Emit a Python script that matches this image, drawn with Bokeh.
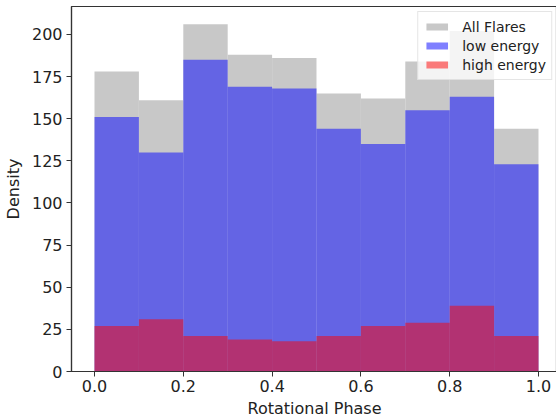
from bokeh.plotting import figure
from bokeh.embed import file_html
from bokeh.resources import INLINE
from bokeh.models import Range1d, FixedTicker, CustomJSTickFormatter

bin_edges = [0.0, 0.1, 0.2, 0.3, 0.4, 0.5, 0.6, 0.7, 0.8, 0.9, 1.0]
all_flares = [178, 161, 206, 188, 186, 165, 162, 184, 202, 144]
low_energy = [151, 130, 185, 169, 168, 144, 135, 155, 163, 123]
high_energy = [27, 31, 21, 19, 18, 21, 27, 29, 39, 21]
x_ticks = [0.0, 0.2, 0.4, 0.6, 0.8, 1.0]
y_ticks = [0, 25, 50, 75, 100, 125, 150, 175, 200]

left = bin_edges[:-1]
right = bin_edges[1:]
zeros = [0] * len(left)

FONT = "DejaVu Sans"

p = figure(frame_width=486, frame_height=365, output_backend="svg", toolbar_location=None,
           x_range=Range1d(-0.0518, 1.0428), y_range=Range1d(0, 216.6),
           min_border_left=62, min_border_right=0, min_border_top=6, min_border_bottom=0)

p.quad(left=left, right=right, bottom=zeros, top=all_flares, fill_color="#c8c8c8",
       line_color=None, legend_label="All Flares")
p.quad(left=left, right=right, bottom=zeros, top=low_energy, fill_color="blue", fill_alpha=0.5,
       line_color=None, legend_label="low energy")
p.quad(left=left, right=right, bottom=zeros, top=high_energy, fill_color="red", fill_alpha=0.5,
       line_color=None, legend_label="high energy")

p.xgrid.visible = False
p.ygrid.visible = False
p.outline_line_color = "#333333"
p.outline_line_width = 1.2

for ax in (p.xaxis[0], p.yaxis[0]):
    ax.axis_line_color = "#333333"
    ax.axis_line_width = 1.2
    ax.major_tick_line_color = "#333333"
    ax.major_tick_out = 5
    ax.major_tick_in = 0
    ax.minor_tick_line_color = None
    ax.major_label_text_font = FONT
    ax.major_label_text_font_size = "16px"
    ax.major_label_text_color = "#222222"
    ax.axis_label_text_font = FONT
    ax.axis_label_text_font_size = "16px"
    ax.axis_label_text_font_style = "normal"
    ax.axis_label_text_color = "#222222"

p.xaxis.ticker = FixedTicker(ticks=x_ticks)
p.yaxis.ticker = FixedTicker(ticks=y_ticks)
p.xaxis.formatter = CustomJSTickFormatter(code="return tick.toFixed(1);")
p.xaxis.axis_label = "Rotational Phase"
p.yaxis.axis_label = "Density"
p.xaxis.major_label_standoff = 3
p.xaxis.axis_label_standoff = 4
p.yaxis.major_label_standoff = 4
p.yaxis.axis_label_standoff = 6

lg = p.legend[0]
lg.location = "top_right"
lg.margin = 5
lg.padding = 5
lg.spacing = 0
lg.label_text_font = FONT
lg.label_text_font_size = "14px"
lg.label_text_color = "#222222"
lg.label_height = 19
lg.glyph_width = 27
lg.glyph_height = 9
lg.label_standoff = 12
lg.background_fill_alpha = 0.8
lg.border_line_color = "#cccccc"
lg.border_line_width = 1

open("out.html", "w").write(file_html(p, INLINE))
